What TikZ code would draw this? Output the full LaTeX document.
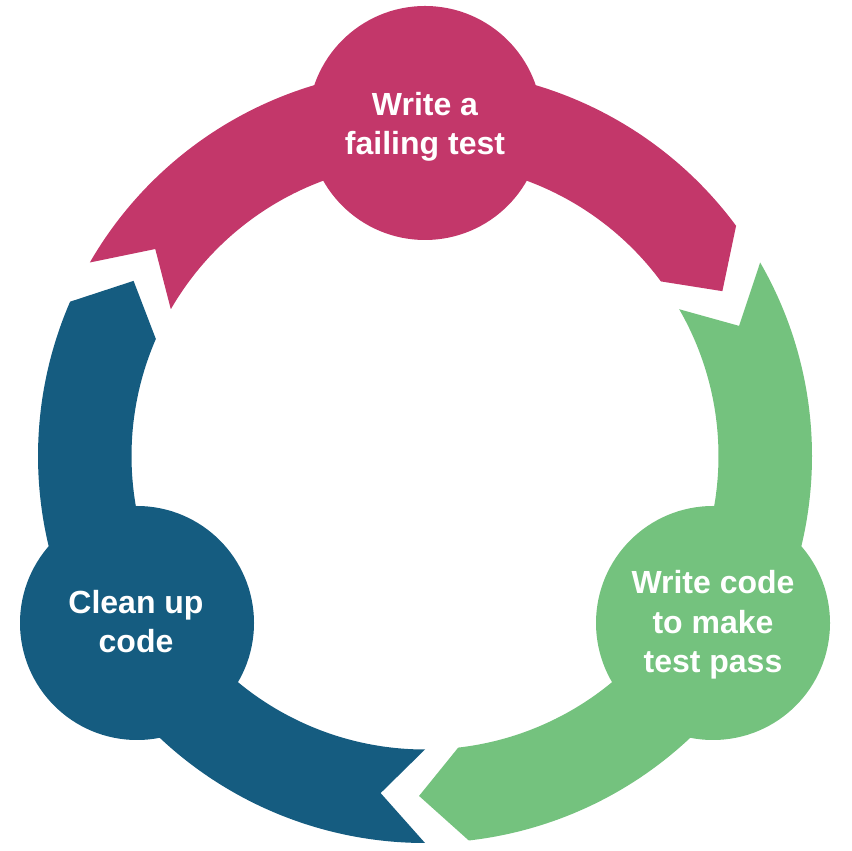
\documentclass[tikz,border=0pt]{standalone}
\usepackage{fontspec}
\setmainfont{Liberation Sans}
\definecolor{failPink}{HTML}{C3376A}
\definecolor{passGreen}{HTML}{74C27E}
\definecolor{cleanBlue}{HTML}{155C80}
\tikzset{
	stepCircle/.style={circle, inner sep=0pt, minimum size=234pt},
	stepText/.style={text=white, align=center, anchor=base, font=\fontsize{32}{39.5}\selectfont\bfseries},
}
\begin{document}
\begin{tikzpicture}[x=1pt,y=1pt]
		\useasboundingbox (0,0) rectangle (851,851);
		\coordinate (hub) at (425,395);

		\begin{scope}[shift={(hub)}]
			\fill[failPink] (150:387) arc[start angle=150, end angle=36.5, radius=387] -- (29:340) -- (36.5:293.5) arc[start angle=36.5, end angle=150, radius=293.5] -- (142.5:340) -- cycle;
			\fill[passGreen] (30:387) arc[start angle=30, end angle=-83.5, radius=387] -- (-91:340) -- (-83.5:293.5) arc[start angle=-83.5, end angle=30, radius=293.5] -- (22.5:340) -- cycle;
			\fill[cleanBlue] (-90:387) arc[start angle=-90, end angle=-203.5, radius=387] -- (-211:340) -- (-203.5:293.5) arc[start angle=-203.5, end angle=-90, radius=293.5] -- (-97.5:340) -- cycle;
		\end{scope}

		\node[stepCircle, fill=failPink](failCircle) at (425,728){};
		\node[stepCircle, fill=passGreen](passCircle) at (713,228){};
		\node[stepCircle, fill=cleanBlue](cleanCircle) at (137,228){};

		\node[stepText](failText) at (425,696){Write a\\failing test};
		\node[stepText](passText) at (713,178){Write code\\to make\\test pass};
		\node[stepText](cleanText) at (136,198){Clean up\\code};
\end{tikzpicture}
\end{document}
